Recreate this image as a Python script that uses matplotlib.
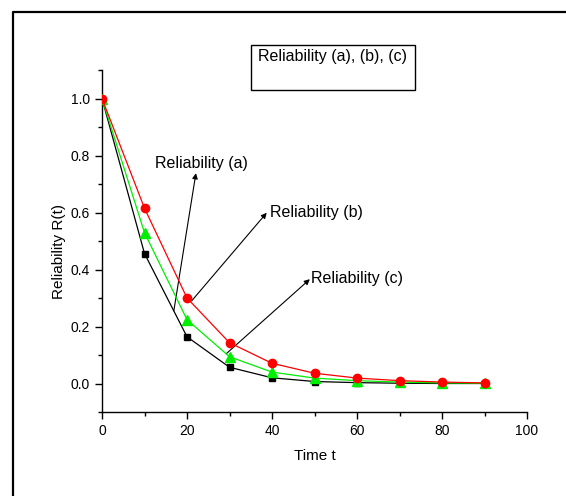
import matplotlib
matplotlib.use("Agg")
import matplotlib.pyplot as plt
from matplotlib.patches import Rectangle
from matplotlib.lines import Line2D
from matplotlib.ticker import MultipleLocator

plt.rcParams['font.family'] = ['Liberation Sans', 'DejaVu Sans']

t = [0, 10, 20, 30, 40, 50, 60, 70, 80, 90]
rel_a = [1.0, 0.615, 0.300, 0.143, 0.071, 0.036, 0.019, 0.010, 0.005, 0.002]
rel_b = [1.0, 0.529, 0.224, 0.094, 0.040, 0.019, 0.010, 0.005, 0.002, 0.001]
rel_c = [1.0, 0.456, 0.164, 0.057, 0.020, 0.007, 0.003, 0.001, 0.000, 0.000]

labels = ["Reliability (a)", "Reliability (b)", "Reliability (c)"]
legend_title = "Reliability (a), (b), (c)"
# (tail x, tail y, head x, head y)
arrows = [(16.9, 0.255, 22.1, 0.738), (21.1, 0.29, 38.75, 0.599), (29.2, 0.104, 48.9, 0.366)]
text_pos = [(12.5, 0.773), (39.5, 0.601), (49.2, 0.367)]

W, H = 566, 496
fig = plt.figure(figsize=(W / 100, H / 100), dpi=100)
ax = fig.add_axes([102 / W, 1 - 412 / H, 425 / W, 342 / H])

ax.plot(t, rel_c, color='black', marker='s', markersize=5, lw=0.9, zorder=3)
ax.plot(t, rel_b, color='#00ee00', marker='^', markersize=6.5, lw=0.9, zorder=4)
ax.plot(t, rel_a, color='red', marker='o', markersize=6, lw=0.9, zorder=5)

ax.set_xlim(0, 100)
ax.set_ylim(-0.1, 1.1)
ax.xaxis.set_major_locator(MultipleLocator(20))
ax.xaxis.set_minor_locator(MultipleLocator(10))
ax.set_yticks([0.0, 0.2, 0.4, 0.6, 0.8, 1.0])
ax.set_yticklabels(['0.0', '0.2', '0.4', '0.6', '0.8', '1.0'])
ax.yaxis.set_minor_locator(MultipleLocator(0.1))
for s in ['top', 'right']:
    ax.spines[s].set_visible(False)
for s in ['left', 'bottom']:
    ax.spines[s].set_linewidth(1.0)
ax.tick_params(which='major', direction='out', length=5, width=1.0, labelsize=10)
ax.tick_params(which='minor', direction='out', length=3, width=1.0)
ax.set_xlabel("Time t", fontsize=11, labelpad=8)
ax.set_ylabel("Reliability R(t)", fontsize=11)
ax.yaxis.set_label_coords(-0.085, 0.468)

for (x0, y0, x1, y1), lab, (tx, ty) in zip(arrows, labels, text_pos):
    ax.annotate("", xy=(x1, y1), xytext=(x0, y0),
                arrowprops=dict(arrowstyle='-|>', lw=0.8, color='black',
                                mutation_scale=8, shrinkA=0, shrinkB=0))
    ax.text(tx, ty, lab, fontsize=11.5, ha='left', va='center')

fig.add_artist(Rectangle((250.7 / W, 1 - 90.3 / H), 164 / W, 45.3 / H,
                         transform=fig.transFigure, fill=False, lw=1.0, ec='black'))
fig.text(258 / W, 1 - 56.7 / H, legend_title, fontsize=11.5, ha='left', va='center')

fig.add_artist(Line2D([13 / W, 13 / W, 1.0], [0.0, 1 - 12 / H, 1 - 12 / H],
                      transform=fig.transFigure, color='black', lw=1.6))

fig.savefig("out.png", dpi=100)
